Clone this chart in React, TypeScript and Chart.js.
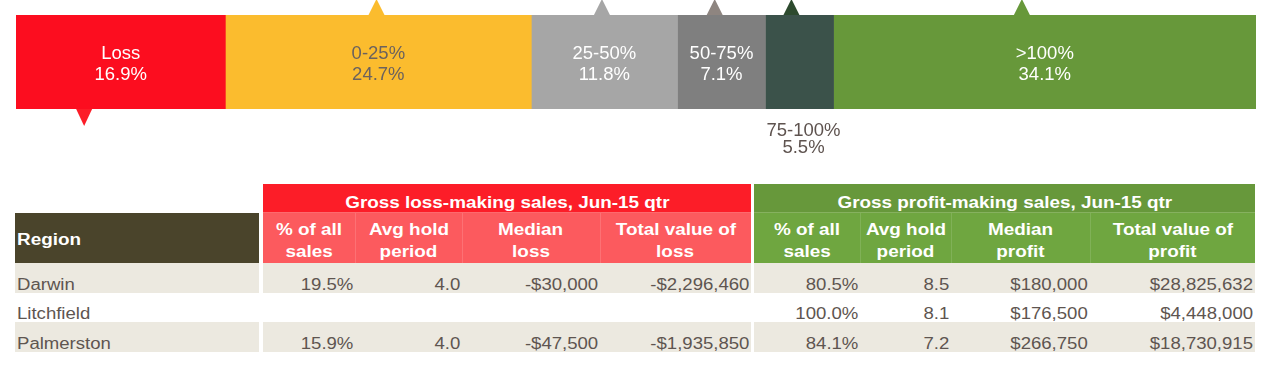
import React, { useEffect, useRef } from "react";
import { Chart, registerables } from "chart.js";

Chart.register(...registerables);

// ---- Bar data ----
const segLabels = ["Loss", "0-25%", "25-50%", "50-75%", "75-100%", ">100%"];
const segValues = [16.9, 24.7, 11.8, 7.1, 5.5, 34.1];
const markerPos = [5.5, 29.1, 47.3, 56.4, 62.6, 81.2];

// ---- Table data ----
const regions = ["Darwin", "Litchfield", "Palmerston"];
const lossShare = [19.5, null, 15.9];
const lossHold = [4.0, null, 4.0];
const lossMedian = [-30000, null, -47500];
const lossTotal = [-2296460, null, -1935850];
const profitShare = [80.5, 100.0, 84.1];
const profitHold = [8.5, 8.1, 7.2];
const profitMedian = [180000, 176500, 266750];
const profitTotal = [28825632, 4448000, 18730915];

const lossHeaders = [["% of all", "sales"], ["Avg hold", "period"], ["Median", "loss"], ["Total value of", "loss"]];
const profitHeaders = [["% of all", "sales"], ["Avg hold", "period"], ["Median", "profit"], ["Total value of", "profit"]];

// ---- styles ----
const segColors = ["#FC0D1F", "#FBBC2E", "#A6A6A6", "#7F7F7F", "#3B524A", "#67983A"];
const markerColors = ["#FC1D28", "#FBBC2E", "#A6A6A6", "#8E8580", "#2D4A2E", "#67983A"];
const labelColors = ["#FFFFFF", "#6B625E", "#FFFFFF", "#FFFFFF", "#5E534F", "#FFFFFF"];
const labelBelow = [false, false, false, false, true, false];
const markerDown = [true, false, false, false, false, false];

const pct = (v: number | null) => (v == null ? "" : v.toFixed(1) + "%");
const num1 = (v: number | null) => (v == null ? "" : v.toFixed(1));
const money = (v: number | null) =>
  v == null ? "" : (v < 0 ? "-$" : "$") + Math.abs(v).toLocaleString("en-US");

const FONT = '"Liberation Sans", Arial, Helvetica, sans-serif';

const overlayPlugin = {
  id: "overlay",
  afterDatasetsDraw(chart: any) {
    const ctx = chart.ctx;
    const area = chart.chartArea;
    const xs = chart.scales.x;
    ctx.save();
    ctx.font = "18.5px " + FONT;
    ctx.textAlign = "center";
    ctx.textBaseline = "alphabetic";
    chart.data.datasets.forEach((ds: any, i: number) => {
      const el = chart.getDatasetMeta(i).data[0];
      const cx = (el.x + el.base) / 2;
      const cy = (area.top + area.bottom) / 2;
      ctx.fillStyle = labelColors[i];
      const l1 = segLabels[i];
      const l2 = segValues[i].toFixed(1) + "%";
      if (labelBelow[i]) {
        ctx.fillText(l1, cx + 4, area.bottom + 27);
        ctx.fillText(l2, cx + 4, area.bottom + 44);
      } else {
        ctx.fillText(l1, cx, cy - 3);
        ctx.fillText(l2, cx, cy + 18);
      }
      // markers
      const mx = xs.getPixelForValue(markerPos[i]);
      ctx.fillStyle = markerColors[i];
      ctx.beginPath();
      if (markerDown[i]) {
        ctx.moveTo(mx - 8, area.bottom);
        ctx.lineTo(mx + 8, area.bottom);
        ctx.lineTo(mx, area.bottom + 17);
      } else {
        ctx.moveTo(mx - 8, area.top);
        ctx.lineTo(mx + 8, area.top);
        ctx.lineTo(mx, area.top - 16);
      }
      ctx.closePath();
      ctx.fill();
    });
    ctx.restore();
  },
};

// ---- table layout ----
const colEdges = [
  [15, 259],
  [263, 355], [355, 462], [462, 600], [600, 751],
  [754, 860], [860, 951], [951, 1090], [1090, 1255],
];
const rowTops = [263, 293, 322];
const rowBottoms = [293, 322, 352];
const TEXT = "#5E5550";
const ROWBG = "#ECE9E0";
const SX = 1.16;
const SXB = 1.18;

function Txt(props: { x0: number; x1: number; baseline: number; align: "left" | "right" | "center"; bold?: boolean; color: string; text: string; pad?: number }) {
  const { x0, x1, baseline, align, bold, color, text } = props;
  const pad = props.pad ?? 3;
  const origin = align === "left" ? "left" : align === "right" ? "right" : "center";
  return (
    <div
      style={{
        position: "absolute",
        left: x0 + (align === "left" ? pad : 0),
        width: x1 - x0 - pad - (align === "left" ? 0 : 0),
        top: baseline - 16,
        height: 21,
        lineHeight: "21px",
        textAlign: align,
        whiteSpace: "nowrap",
        fontFamily: FONT,
        fontSize: 16,
        fontWeight: bold ? "bold" : "normal",
        color,
      }}
    >
      <span style={{ display: "inline-block", transform: `scaleX(${bold ? SXB : SX})`, transformOrigin: origin }}>{text}</span>
    </div>
  );
}

function Rect(props: { x0: number; x1: number; y0: number; y1: number; bg: string; children?: any }) {
  return (
    <div
      style={{
        position: "absolute",
        left: props.x0,
        top: props.y0,
        width: props.x1 - props.x0,
        height: props.y1 - props.y0,
        background: props.bg,
      }}
    />
  );
}

export default function App() {
  const ref = useRef<HTMLCanvasElement>(null);
  useEffect(() => {
    if (!ref.current) return;
    const total = segValues.reduce((a, b) => a + b, 0);
    const chart = new Chart(ref.current, {
      type: "bar",
      data: {
        labels: [""],
        datasets: segValues.map((v, i) => ({
          label: segLabels[i],
          data: [v],
          backgroundColor: segColors[i],
          borderWidth: 0,
          barPercentage: 1,
          categoryPercentage: 1,
        })),
      },
      options: {
        indexAxis: "y",
        responsive: false,
        animation: false,
        layout: { padding: { left: 16, right: 22, top: 15, bottom: 51 } },
        scales: {
          x: { stacked: true, display: false, min: 0, max: total },
          y: { stacked: true, display: false },
        },
        plugins: { legend: { display: false }, tooltip: { enabled: false }, title: { display: false } },
      },
      plugins: [overlayPlugin],
    });
    return () => chart.destroy();
  }, []);

  const rowCells = (r: number) => [
    money === null ? "" : "",
    pct(lossShare[r]), num1(lossHold[r]), money(lossMedian[r]), money(lossTotal[r]),
    pct(profitShare[r]), num1(profitHold[r]), money(profitMedian[r]), money(profitTotal[r]),
  ];

  const els: any[] = [];
  // row backgrounds
  rowTops.forEach((t, r) => {
    if (r % 2 === 0) {
      els.push(<Rect key={"bg0" + r} x0={15} x1={259} y0={t} y1={rowBottoms[r]} bg={ROWBG} />);
      els.push(<Rect key={"bg1" + r} x0={263} x1={751} y0={t} y1={rowBottoms[r]} bg={ROWBG} />);
      els.push(<Rect key={"bg2" + r} x0={754} x1={1255} y0={t} y1={rowBottoms[r]} bg={ROWBG} />);
    }
  });
  // headers
  els.push(<Rect key="hl" x0={263} x1={751} y0={184} y1={212} bg="#FC1D28" />);
  els.push(<Rect key="hp" x0={754} x1={1255} y0={184} y1={212} bg="#67983B" />);
  els.push(<Rect key="hlsep" x0={263} x1={751} y0={212} y1={213} bg="#FD6A6E" />);
  els.push(<Rect key="hpsep" x0={754} x1={1255} y0={212} y1={213} bg="#86B15F" />);
  els.push(<Rect key="sl" x0={263} x1={751} y0={213} y1={263} bg="#FC5A5E" />);
  els.push(<Rect key="sp" x0={754} x1={1255} y0={213} y1={263} bg="#6FA640" />);
  els.push(<Rect key="reg" x0={15} x1={259} y0={213} y1={263} bg="#4A442B" />);
  [355, 462, 600].forEach((x) => els.push(<Rect key={"vl" + x} x0={x} x1={x + 1} y0={213} y1={263} bg="#FD7174" />));
  [860, 951, 1090].forEach((x) => els.push(<Rect key={"vp" + x} x0={x} x1={x + 1} y0={213} y1={263} bg="#80B157" />));

  els.push(<Txt key="t-hl" x0={263} x1={751} baseline={208} align="center" bold color="#FFFFFF" text="Gross loss-making sales, Jun-15 qtr" pad={0} />);
  els.push(<Txt key="t-hp" x0={754} x1={1255} baseline={208} align="center" bold color="#FFFFFF" text="Gross profit-making sales, Jun-15 qtr" pad={0} />);
  els.push(<Txt key="t-reg" x0={15} x1={259} baseline={245} align="left" bold color="#FFFFFF" text="Region" pad={2} />);
  const hdrs = [...lossHeaders, ...profitHeaders];
  hdrs.forEach((h, i) => {
    const [x0, x1] = colEdges[i + 1];
    els.push(<Txt key={"h1" + i} x0={x0} x1={x1} baseline={235} align="center" bold color="#FFFFFF" text={h[0]} pad={0} />);
    els.push(<Txt key={"h2" + i} x0={x0} x1={x1} baseline={257} align="center" bold color="#FFFFFF" text={h[1]} pad={0} />);
  });

  regions.forEach((reg, r) => {
    const base = rowBottoms[r] - 3;
    els.push(<Txt key={"rg" + r} x0={15} x1={259} baseline={base} align="left" color={TEXT} text={reg} pad={2} />);
    const cells = rowCells(r);
    for (let c = 1; c < 9; c++) {
      const [x0, x1] = colEdges[c];
      els.push(<Txt key={"c" + r + "-" + c} x0={x0} x1={x1} baseline={base} align="right" color={TEXT} text={cells[c]} pad={2} />);
    }
  });

  return (
    <div style={{ position: "absolute", left: 0, top: 0, width: 1278, height: 378, background: "#FFFFFF", overflow: "hidden" }}>
      <canvas ref={ref} width={1278} height={160} style={{ position: "absolute", left: 0, top: 0, width: 1278, height: 160 }} />
      {els}
    </div>
  );
}
